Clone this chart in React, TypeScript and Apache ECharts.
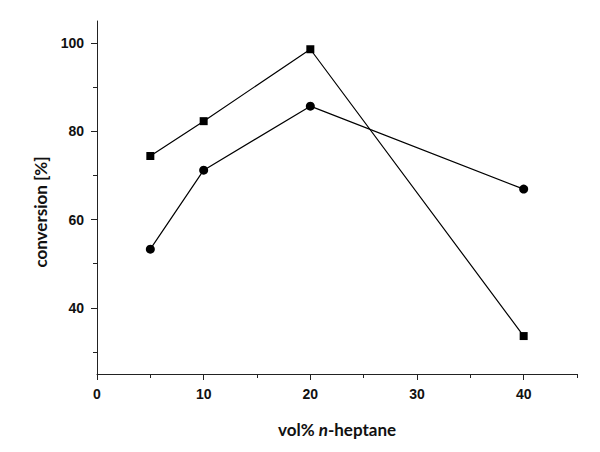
import React, { useEffect, useRef } from "react";
import * as echarts from "echarts";

const xValues = [5, 10, 20, 40];
const squareSeries = [74.4, 82.3, 98.6, 33.6];
const circleSeries = [53.3, 71.2, 85.7, 66.9];
const xMajorTicks = [0, 10, 20, 30, 40];
const xMinorTicks = [5, 15, 25, 35, 45];
const yMajorTicks = [40, 60, 80, 100];
const yMinorTicks = [30, 50, 70, 90];

const AXIS_COLOR = "#222";
const TICK_FONT = { fontFamily: "'Liberation Sans', Arial, sans-serif", fontWeight: "bold" as const, fontSize: 14, color: "#111" };

export default function App() {
  const ref = useRef<HTMLDivElement>(null);
  useEffect(() => {
    if (!ref.current) return;
    const chart = echarts.init(ref.current, undefined, { renderer: "svg" });
    const grid = { left: 97, right: 23, top: 21, bottom: 78 };
    const xBase = { type: "value" as const, min: 0, max: 45, position: "bottom" as const, splitLine: { show: false } };
    const yBase = { type: "value" as const, min: 25, max: 105, position: "left" as const, splitLine: { show: false } };
    chart.setOption({
      animation: false,
      backgroundColor: "#fff",
      grid,
      xAxis: [
        {
          ...xBase,
          axisLine: { show: true, onZero: false, lineStyle: { color: AXIS_COLOR, width: 1 } },
          axisTick: { show: true, customValues: xMajorTicks, length: 6, lineStyle: { color: AXIS_COLOR } },
          axisLabel: { show: true, customValues: xMajorTicks, margin: 13, ...TICK_FONT },
        },
        {
          ...xBase,
          axisLine: { show: false, onZero: false },
          axisTick: { show: true, customValues: xMinorTicks, length: 4, lineStyle: { color: AXIS_COLOR } },
          axisLabel: { show: false },
        },
      ],
      yAxis: [
        {
          ...yBase,
          axisLine: { show: true, onZero: false, lineStyle: { color: AXIS_COLOR, width: 1 } },
          axisTick: { show: true, customValues: yMajorTicks, length: 6, lineStyle: { color: AXIS_COLOR } },
          axisLabel: { show: true, customValues: yMajorTicks, margin: 13, ...TICK_FONT },
        },
        {
          ...yBase,
          axisLine: { show: false, onZero: false },
          axisTick: { show: true, customValues: yMinorTicks, length: 4, lineStyle: { color: AXIS_COLOR } },
          axisLabel: { show: false },
        },
      ],
      series: [
        {
          type: "line",
          name: "square",
          data: xValues.map((x, i) => [x, squareSeries[i]]),
          symbol: "rect",
          symbolSize: 8,
          lineStyle: { color: "#000", width: 1.2 },
          itemStyle: { color: "#000" },
        },
        {
          type: "line",
          name: "circle",
          data: xValues.map((x, i) => [x, circleSeries[i]]),
          symbol: "circle",
          symbolSize: 9,
          lineStyle: { color: "#000", width: 1.2 },
          itemStyle: { color: "#000" },
        },
      ],
      graphic: [
        {
          type: "text",
          x: 337,
          y: 429,
          style: {
            text: "{b|vol% }{i|n}{b|-heptane}",
            align: "center",
            verticalAlign: "middle",
            rich: {
              b: { fontFamily: "Lato, 'Open Sans', sans-serif", fontWeight: "bold", fontSize: 17, fill: "#111" },
              i: { fontFamily: "Lato, 'Open Sans', sans-serif", fontWeight: "bold", fontStyle: "italic", fontSize: 17, fill: "#111" },
            },
          },
        },
        {
          type: "text",
          x: 40,
          y: 212,
          rotation: Math.PI / 2,
          style: {
            text: "conversion [%]",
            align: "center",
            verticalAlign: "middle",
            fontFamily: "Lato, 'Open Sans', sans-serif",
            fontWeight: "bold",
            fontSize: 17,
            fill: "#111",
          },
        },
      ],
    });
    return () => chart.dispose();
  }, []);
  return <div ref={ref} style={{ width: 600, height: 452, position: "absolute", left: 0, top: 0 }} />;
}
